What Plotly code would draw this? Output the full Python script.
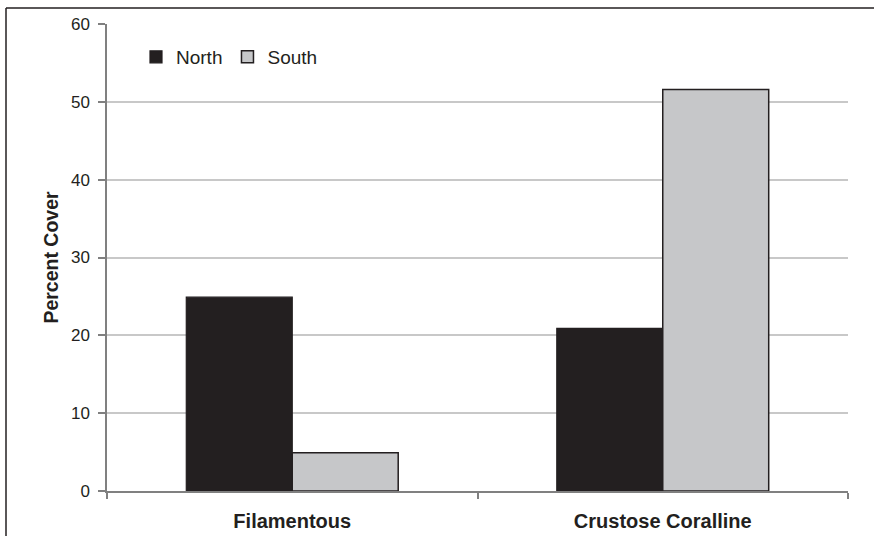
import plotly.graph_objects as go

categories = ["Filamentous", "Crustose Coralline"]
north = [24.9, 20.9]
south = [4.9, 51.6]
y_ticks = [0, 10, 20, 30, 40, 50, 60]

W, H = 874, 536
L, R, T, B = 107, 26, 24, 45
pw, ph = W - L - R, H - T - B

dark = "#231f20"
grey_fill = "#c6c7c9"
font = "Liberation Sans, Arial, sans-serif"

fig = go.Figure()
fig.add_trace(go.Bar(name="North", x=categories, y=north,
                     marker=dict(color=dark, line=dict(color=dark, width=1.2))))
fig.add_trace(go.Bar(name="South", x=categories, y=south,
                     marker=dict(color=grey_fill, line=dict(color=dark, width=1.5))))

# figure frame (left and top edges visible in reference)
px = lambda x: (x - L) / pw
py = lambda y: (H - B - y) / ph
fig.add_shape(type="line", xref="paper", yref="paper", x0=px(6), x1=px(W + 10),
              y0=py(8), y1=py(8), line=dict(color=dark, width=1.5))
fig.add_shape(type="line", xref="paper", yref="paper", x0=px(6), x1=px(6),
              y0=py(8), y1=py(H + 10), line=dict(color=dark, width=1.5))

fig.update_layout(
    width=W, height=H,
    margin=dict(l=L, r=R, t=T, b=B, pad=0, autoexpand=False),
    paper_bgcolor="white", plot_bgcolor="white",
    barmode="group", bargap=0.428, bargroupgap=0,
    font=dict(family=font, color=dark, size=17),
    showlegend=True,
    legend=dict(orientation="h", x=px(136), y=py(57), xanchor="left", yanchor="middle",
                font=dict(size=19, color=dark), bgcolor="rgba(0,0,0,0)",
                itemwidth=30, tracegroupgap=0),
    xaxis=dict(showgrid=False, showline=True, linecolor="#808080", linewidth=1.5,
               ticks="outside", tickson="boundaries", ticklen=6, tickcolor="#808080",
               tickwidth=1.5, tickfont=dict(size=20, family=font, color=dark, weight="bold"),
               ticklabelstandoff=11, automargin=False),
    yaxis=dict(range=[0, 60], tickvals=y_ticks, showgrid=True, gridcolor="#c8c8c8",
               gridwidth=1.5, showline=True, linecolor="#808080", linewidth=1.5,
               ticks="outside", ticklen=7, tickcolor="#808080", tickwidth=1.5,
               tickfont=dict(size=17, color=dark), zeroline=False,
               ticklabelstandoff=5, automargin=False,
               title=dict(text="Percent Cover", standoff=7,
                          font=dict(size=19.5, family=font, color=dark, weight="bold"))),
)

fig.write_html("out.html", config={"displayModeBar": False},
               post_script="document.body.style.margin='0';document.body.style.overflow='hidden';")
